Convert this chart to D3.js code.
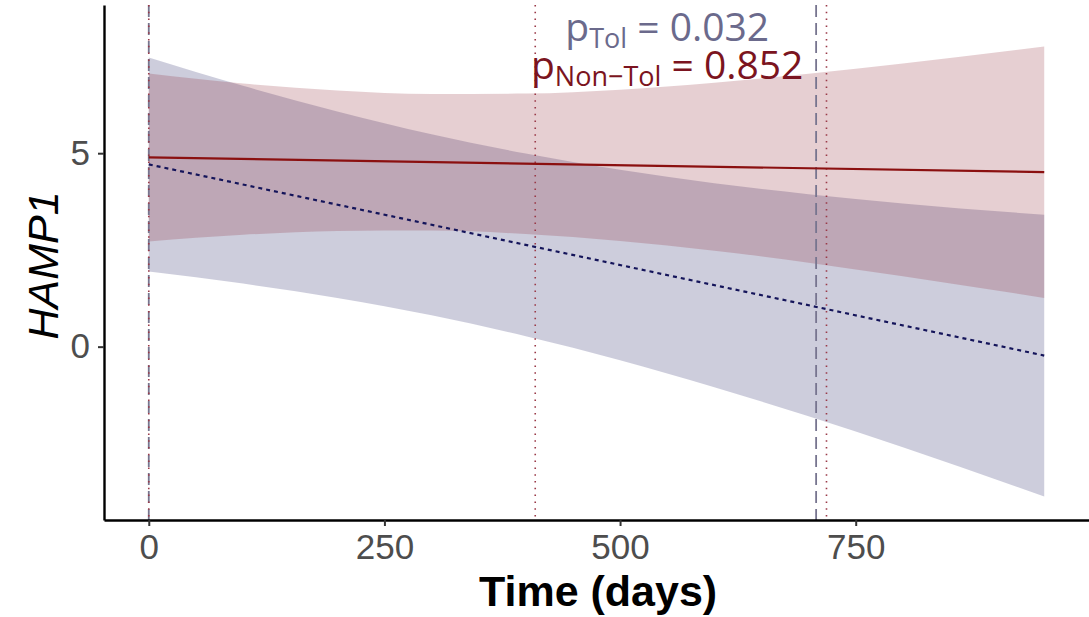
<!DOCTYPE html>
<html>
<head>
<meta charset="utf-8">
<script src="https://cdn.jsdelivr.net/npm/d3@7"></script>
<style>
  body { margin: 0; background: #fff; }
  svg { display: block; }
</style>
</head>
<body>
<div id="chart"></div>
<script>
// band sample times (days)
const times = [0, 100, 200, 300, 400, 500, 600, 700, 800, 950];
// Tol: 95% band
const tolLower = [1.94, 1.63, 1.26, 0.81, 0.27, -0.35, -1.05, -1.80, -2.60, -3.87];
const tolUpper = [7.47, 6.74, 6.08, 5.49, 4.99, 4.57, 4.22, 3.94, 3.70, 3.41];
// Non-Tol: 95% band
const nonTolLower = [2.72, 2.89, 2.99, 3.00, 2.91, 2.73, 2.48, 2.17, 1.82, 1.26];
const nonTolUpper = [7.06, 6.80, 6.62, 6.53, 6.54, 6.64, 6.82, 7.05, 7.32, 7.76];
// fitted lines
const lineTimes = [0, 950];
const tolFit = [4.71, -0.23];
const nonTolFit = [4.89, 4.51];
// reference lines
const tolVLines = [0, 708];
const nonTolVLines = [0, 410, 719];
// ticks & labels
const xTicks = [0, 250, 500, 750];
const yTicks = [0, 5];
const pTol = '0.032';
const pNonTol = '0.852';

const width = 1089, height = 617;
const margin = { top: 5, right: 0, bottom: 97, left: 104 };

const svg = d3.select('#chart').append('svg')
    .attr('width', width)
    .attr('height', height);

const x = d3.scaleLinear().domain([-47.5, 997.5]).range([margin.left, width - margin.right]);
const y = d3.scaleLinear().domain([-4.48, 8.83]).range([height - margin.bottom, margin.top]);

const band = (lo, hi) => d3.area()
    .x((d, i) => x(times[i]))
    .y0((d, i) => y(lo[i]))
    .y1((d, i) => y(hi[i]))
    .curve(d3.curveMonotoneX)(times);

// bands
svg.append('path').attr('d', band(tolLower, tolUpper))
    .attr('fill', '#58588a').attr('fill-opacity', 0.3);
svg.append('path').attr('d', band(nonTolLower, nonTolUpper))
    .attr('fill', '#8b1a2a').attr('fill-opacity', 0.21);

// vertical reference lines
svg.selectAll('.vtol').data(tolVLines).enter().append('line')
    .attr('x1', d => x(d)).attr('x2', d => x(d))
    .attr('y1', margin.top).attr('y2', height - margin.bottom)
    .attr('stroke', '#77758f').attr('stroke-width', 1.8)
    .attr('stroke-dasharray', '12,6');
svg.selectAll('.vnon').data(nonTolVLines).enter().append('line')
    .attr('x1', d => x(d)).attr('x2', d => x(d))
    .attr('y1', margin.top).attr('y2', height - margin.bottom)
    .attr('stroke', '#9a3a48').attr('stroke-width', 1.6)
    .attr('stroke-dasharray', '1.5,5.3');

// fitted lines
const fitLine = vals => d3.line()
    .x((d, i) => x(lineTimes[i]))
    .y((d, i) => y(vals[i]))(lineTimes);

svg.append('path').attr('d', fitLine(nonTolFit))
    .attr('fill', 'none').attr('stroke', '#8b1010').attr('stroke-width', 2.2);
svg.append('path').attr('d', fitLine(tolFit))
    .attr('fill', 'none').attr('stroke', '#14145a').attr('stroke-width', 2.2)
    .attr('stroke-dasharray', '4,4');

// axes
const xAxis = svg.append('g')
    .attr('transform', `translate(0,${height - margin.bottom})`)
    .call(d3.axisBottom(x).tickValues(xTicks).tickSize(6).tickPadding(8).tickSizeOuter(0));
const yAxis = svg.append('g')
    .attr('transform', `translate(${margin.left},0)`)
    .call(d3.axisLeft(y).tickValues(yTicks).tickSize(6).tickPadding(8).tickSizeOuter(0));

[xAxis, yAxis].forEach(g => {
    g.select('.domain').attr('stroke', '#000').attr('stroke-width', 2.4);
    g.selectAll('.tick line').attr('stroke', '#333').attr('stroke-width', 2);
    g.selectAll('.tick text')
        .attr('fill', '#4d4d4d')
        .style('font-family', '"Liberation Sans", Arial, sans-serif')
        .style('font-size', '35px');
});

// axis titles
svg.append('text')
    .attr('x', x(500) - 22).attr('y', 606)
    .attr('text-anchor', 'middle')
    .style('font-family', '"Liberation Sans", Arial, sans-serif')
    .style('font-weight', 'bold').style('font-size', '43px')
    .text('Time (days)');

svg.append('text')
    .attr('transform', `translate(58,${y(2.1)}) rotate(-90)`)
    .attr('text-anchor', 'middle')
    .style('font-family', '"Liberation Sans", Arial, sans-serif')
    .style('font-style', 'italic').style('font-size', '43px')
    .text('HAMP1');

// p-value annotation
const note = (label, value, color, baseline) => {
    const t = svg.append('text')
        .attr('x', x(550)).attr('y', baseline)
        .attr('text-anchor', 'middle')
        .attr('fill', color)
        .style('font-family', '"Open Sans", "Noto Sans", sans-serif')
        .style('font-size', '39px');
    t.append('tspan').text('p');
    t.append('tspan').attr('dy', 7).style('font-size', '27px').text(label);
    t.append('tspan').attr('dy', -7).text(' = ' + value);
};
note('Tol', pTol, '#6b6a8c', 41);
note('Non\u2212Tol', pNonTol, '#7b1420', 79);
</script>
</body>
</html>
